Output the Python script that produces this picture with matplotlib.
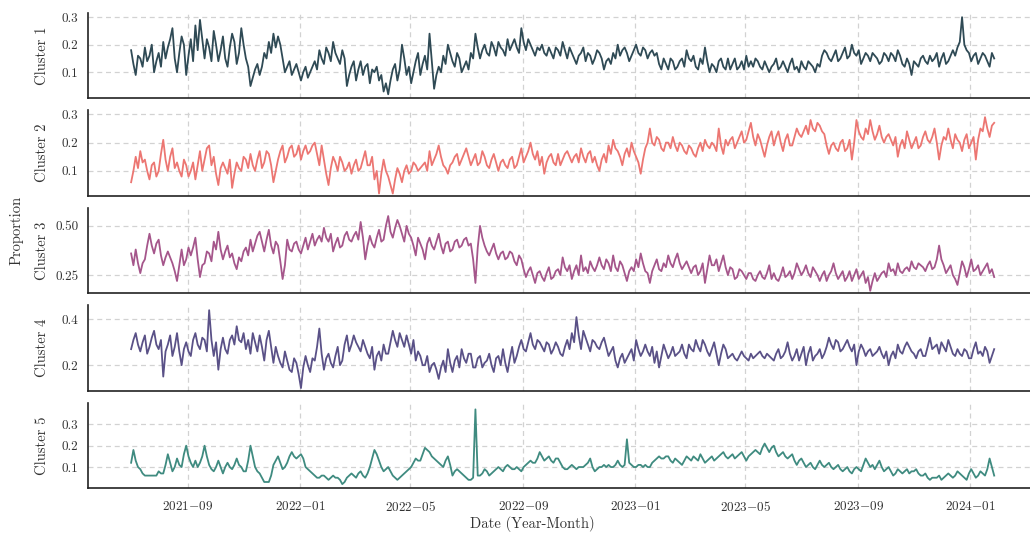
import matplotlib
matplotlib.use("Agg")
import matplotlib.pyplot as plt
import matplotlib.ticker as mticker
import matplotlib.dates as mdates
import pandas as pd
import numpy as np

plt.rcParams.update({
    "font.family": "serif",
    "font.serif": ["cmr10", "DejaVu Serif"],
    "mathtext.fontset": "cm",
    "axes.formatter.use_mathtext": True,
    "axes.unicode_minus": False,
})

start_date = "2021-07-01"
n_points = 189           # readings every 5 days
half_step = "60h"        # in-between readings, 2.5 days later

cluster1 = [
    0.18, 0.09, 0.15, 0.19, 0.16, 0.10, 0.17, 0.21, 0.19, 0.26,
    0.10, 0.23, 0.09, 0.22, 0.27, 0.29, 0.15, 0.19, 0.25, 0.14,
    0.23, 0.12, 0.24, 0.13, 0.26, 0.15, 0.05, 0.11, 0.09, 0.17,
    0.21, 0.24, 0.23, 0.15, 0.12, 0.09, 0.13, 0.07, 0.12, 0.10,
    0.14, 0.18, 0.13, 0.17, 0.21, 0.15, 0.18, 0.05, 0.12, 0.07,
    0.14, 0.12, 0.06, 0.10, 0.07, 0.03, 0.02, 0.11, 0.07, 0.20,
    0.09, 0.06, 0.14, 0.09, 0.16, 0.24, 0.04, 0.12, 0.16, 0.20,
    0.14, 0.17, 0.10, 0.14, 0.17, 0.24, 0.15, 0.20, 0.16, 0.19,
    0.21, 0.18, 0.22, 0.20, 0.19, 0.26, 0.18, 0.20, 0.16, 0.18,
    0.17, 0.19, 0.15,
    0.18, 0.21, 0.15, 0.17, 0.13, 0.17, 0.14,
    0.16, 0.15, 0.17, 0.11, 0.15, 0.17, 0.20, 0.18, 0.17, 0.16,
    0.20, 0.16, 0.18, 0.17, 0.16, 0.13, 0.15, 0.11, 0.14, 0.12,
    0.15, 0.18, 0.14, 0.12, 0.15, 0.19, 0.10, 0.12, 0.14, 0.12,
    0.15, 0.13, 0.11, 0.14, 0.16, 0.14, 0.15, 0.12, 0.14, 0.10,
    0.13, 0.11, 0.14, 0.10, 0.15, 0.12, 0.14, 0.11, 0.13, 0.10,
    0.12, 0.18, 0.15, 0.16, 0.14, 0.17, 0.15, 0.20, 0.16, 0.13,
    0.17, 0.14, 0.16, 0.13, 0.17, 0.14, 0.16, 0.18, 0.13, 0.15,
    0.09, 0.13, 0.15, 0.14, 0.16, 0.15, 0.12, 0.17, 0.14, 0.18,
    0.19, 0.30, 0.18, 0.14, 0.17, 0.15, 0.16, 0.12, 0.15,
]
cluster1_between = [
    0.13, 0.16, 0.12, 0.14, 0.20, 0.14, 0.12, 0.15, 0.22, 0.15,
    0.17, 0.20, 0.16, 0.14, 0.18, 0.22, 0.22, 0.14, 0.20, 0.18,
    0.15, 0.19, 0.21, 0.17, 0.20, 0.12, 0.08, 0.13, 0.12, 0.15,
    0.17, 0.19, 0.20, 0.10, 0.14, 0.11, 0.10, 0.10, 0.08, 0.12,
    0.11, 0.15, 0.19, 0.14, 0.17, 0.13, 0.15, 0.09, 0.14, 0.11,
    0.09, 0.13, 0.11, 0.12, 0.09, 0.06, 0.07, 0.13, 0.11, 0.15,
    0.12, 0.10, 0.17, 0.13, 0.11, 0.14, 0.09, 0.10, 0.13, 0.17,
    0.12, 0.15, 0.12, 0.11, 0.15, 0.19, 0.18, 0.17, 0.21, 0.16,
    0.19, 0.16, 0.18, 0.22, 0.17, 0.21, 0.22, 0.18, 0.19, 0.20,
    0.16, 0.17, 0.19, 0.16, 0.18, 0.19, 0.15, 0.16, 0.19, 0.17,
    0.13, 0.18, 0.15, 0.14, 0.13, 0.15, 0.16, 0.19, 0.14, 0.18,
    0.17, 0.19, 0.15, 0.18, 0.17, 0.11, 0.13, 0.15, 0.11, 0.14,
    0.12, 0.15, 0.16, 0.11, 0.13, 0.14, 0.13, 0.10, 0.15, 0.11,
    0.11, 0.15, 0.12, 0.11, 0.12, 0.12, 0.14, 0.11, 0.12, 0.12,
    0.15, 0.12, 0.12, 0.13, 0.11, 0.10, 0.12, 0.14, 0.12, 0.13,
    0.16, 0.17, 0.14, 0.18, 0.15, 0.19, 0.16, 0.17, 0.18, 0.15,
    0.16, 0.17, 0.15, 0.14, 0.16, 0.17, 0.14, 0.16, 0.12, 0.13,
    0.14, 0.12, 0.16, 0.13, 0.14, 0.17, 0.15, 0.13, 0.16, 0.16,
    0.21, 0.20, 0.17, 0.16, 0.13, 0.17, 0.14, 0.17,
]

cluster2 = [
    0.06, 0.15, 0.17, 0.14, 0.07, 0.13, 0.10, 0.21, 0.10, 0.18,
    0.13, 0.08, 0.12, 0.10, 0.07, 0.17, 0.14, 0.19, 0.15, 0.05,
    0.13, 0.09, 0.04, 0.13, 0.10, 0.14, 0.16, 0.10, 0.17, 0.13,
    0.16, 0.06, 0.14, 0.19, 0.15, 0.19, 0.16, 0.14, 0.19, 0.17,
    0.20, 0.12, 0.14, 0.05, 0.15, 0.10, 0.13, 0.11, 0.09, 0.14,
    0.11, 0.17, 0.12, 0.07, 0.02, 0.14, 0.08, 0.02, 0.11, 0.06,
    0.12, 0.10, 0.12, 0.11, 0.13, 0.17, 0.14, 0.19, 0.12, 0.09,
    0.13, 0.16, 0.14, 0.18, 0.12, 0.16, 0.13, 0.15, 0.11, 0.16,
    0.10, 0.14, 0.11, 0.15, 0.12, 0.18, 0.15, 0.20, 0.14, 0.12,
    0.09, 0.15, 0.13,
    0.16, 0.14, 0.17, 0.13, 0.16, 0.18, 0.13,
    0.17, 0.15, 0.10, 0.16, 0.19, 0.21, 0.17, 0.12, 0.18, 0.20,
    0.15, 0.09, 0.18, 0.25, 0.19, 0.21, 0.17, 0.20, 0.22, 0.17,
    0.19, 0.16, 0.18, 0.15, 0.20, 0.21, 0.18, 0.19, 0.25, 0.16,
    0.19, 0.22, 0.20, 0.24, 0.21, 0.27, 0.19, 0.21, 0.15, 0.22,
    0.19, 0.24, 0.17, 0.23, 0.19, 0.25, 0.22, 0.26, 0.28, 0.24,
    0.26, 0.23, 0.16, 0.20, 0.17, 0.21, 0.18, 0.14, 0.28, 0.22,
    0.25, 0.28, 0.21, 0.26, 0.20, 0.23, 0.19, 0.15, 0.21, 0.24,
    0.18, 0.22, 0.19, 0.24, 0.20, 0.25, 0.14, 0.22, 0.25, 0.18,
    0.21, 0.17, 0.23, 0.20, 0.14, 0.25, 0.29, 0.22, 0.27,
]
cluster2_between = [
    0.10, 0.11, 0.13, 0.10, 0.12, 0.08, 0.16, 0.14, 0.15, 0.11,
    0.10, 0.14, 0.08, 0.13, 0.12, 0.10, 0.18, 0.12, 0.09, 0.11,
    0.11, 0.14, 0.09, 0.11, 0.15, 0.11, 0.12, 0.14, 0.11, 0.17,
    0.12, 0.10, 0.17, 0.13, 0.18, 0.15, 0.19, 0.17, 0.16, 0.19,
    0.16, 0.19, 0.09, 0.11, 0.13, 0.15, 0.10, 0.13, 0.12, 0.10,
    0.14, 0.12, 0.15, 0.10, 0.09, 0.10, 0.05, 0.07, 0.09, 0.10,
    0.09, 0.13, 0.10, 0.12, 0.10, 0.12, 0.16, 0.15, 0.11, 0.12,
    0.15, 0.12, 0.16, 0.15, 0.14, 0.12, 0.17, 0.12, 0.14, 0.13,
    0.13, 0.12, 0.14, 0.11, 0.15, 0.13, 0.17, 0.16, 0.17, 0.15,
    0.13, 0.16, 0.12, 0.12, 0.16, 0.15, 0.15, 0.13, 0.15, 0.16,
    0.13, 0.12, 0.14, 0.13, 0.16, 0.18, 0.15, 0.16, 0.15, 0.17,
    0.13, 0.14, 0.20, 0.20, 0.22, 0.18, 0.20, 0.18, 0.19, 0.20,
    0.17, 0.19, 0.16, 0.18, 0.17, 0.19, 0.20, 0.17, 0.19, 0.21,
    0.21, 0.18, 0.22, 0.20, 0.24, 0.22, 0.23, 0.18, 0.19, 0.24,
    0.22, 0.20, 0.21, 0.19, 0.22, 0.23, 0.24, 0.23, 0.25, 0.27,
    0.24, 0.19, 0.19, 0.18, 0.20, 0.17, 0.21, 0.20, 0.24, 0.21,
    0.23, 0.24, 0.23, 0.22, 0.22, 0.21, 0.22, 0.19, 0.18, 0.21,
    0.20, 0.18, 0.22, 0.21, 0.22, 0.20, 0.19, 0.21, 0.21, 0.23,
    0.20, 0.21, 0.18, 0.22, 0.21, 0.24, 0.25, 0.26,
]

cluster3 = [
    0.36, 0.38, 0.26, 0.33, 0.46, 0.36, 0.43, 0.30, 0.37, 0.31,
    0.22, 0.38, 0.33, 0.35, 0.44, 0.24, 0.31, 0.36, 0.42, 0.47,
    0.33, 0.40, 0.36, 0.28, 0.32, 0.39, 0.43, 0.41, 0.47, 0.37,
    0.48, 0.36, 0.40, 0.23, 0.43, 0.37, 0.42, 0.36, 0.44, 0.42,
    0.40, 0.45, 0.49, 0.42, 0.37, 0.44, 0.40, 0.47, 0.42, 0.47,
    0.52, 0.33, 0.45, 0.39, 0.48, 0.43, 0.55, 0.44, 0.53, 0.46,
    0.50, 0.44, 0.35, 0.41, 0.33, 0.44, 0.38, 0.46, 0.36, 0.42,
    0.38, 0.43, 0.40, 0.44, 0.41, 0.21, 0.50, 0.40, 0.35, 0.41,
    0.33, 0.37, 0.34, 0.36, 0.30, 0.33, 0.24, 0.29, 0.21, 0.27,
    0.22, 0.29, 0.24,
    0.28, 0.34, 0.27, 0.23, 0.30, 0.35, 0.29,
    0.32, 0.27, 0.34, 0.28, 0.31, 0.35, 0.27, 0.30, 0.22, 0.29,
    0.33, 0.36, 0.27, 0.21, 0.30, 0.28, 0.31, 0.35, 0.29, 0.36,
    0.28, 0.32, 0.26, 0.30, 0.27, 0.21, 0.35, 0.30, 0.27, 0.35,
    0.25, 0.28, 0.24, 0.27, 0.23, 0.26, 0.22, 0.27, 0.23, 0.30,
    0.26, 0.22, 0.29, 0.25, 0.23, 0.31, 0.25, 0.30, 0.24, 0.27,
    0.22, 0.27, 0.25, 0.31, 0.23, 0.27, 0.24, 0.22, 0.28, 0.25,
    0.21, 0.17, 0.26, 0.24, 0.27, 0.31, 0.28, 0.31, 0.26, 0.29,
    0.32, 0.28, 0.30, 0.27, 0.32, 0.29, 0.40, 0.30, 0.28, 0.25,
    0.20, 0.32, 0.24, 0.33, 0.28, 0.25, 0.29, 0.26, 0.24,
]
cluster3_between = [
    0.30, 0.31, 0.31, 0.40, 0.40, 0.41, 0.35, 0.34, 0.34, 0.27,
    0.30, 0.30, 0.39, 0.39, 0.33, 0.30, 0.37, 0.32, 0.38, 0.38,
    0.37, 0.34, 0.31, 0.34, 0.37, 0.35, 0.37, 0.45, 0.42, 0.43,
    0.40, 0.42, 0.32, 0.30, 0.38, 0.41, 0.38, 0.40, 0.38, 0.46,
    0.43, 0.42, 0.44, 0.46, 0.41, 0.39, 0.45, 0.43, 0.45, 0.43,
    0.44, 0.40, 0.41, 0.44, 0.42, 0.50, 0.47, 0.49, 0.50, 0.42,
    0.46, 0.40, 0.44, 0.38, 0.41, 0.40, 0.42, 0.40, 0.41, 0.37,
    0.42, 0.39, 0.43, 0.40, 0.33, 0.39, 0.44, 0.37, 0.38, 0.36,
    0.36, 0.33, 0.37, 0.32, 0.35, 0.28, 0.27, 0.25, 0.26, 0.24,
    0.26, 0.23, 0.27, 0.25, 0.29, 0.30, 0.27, 0.25, 0.27, 0.26,
    0.29, 0.30, 0.30, 0.33, 0.27, 0.29, 0.32, 0.26, 0.27, 0.27,
    0.29, 0.31, 0.26, 0.27, 0.33, 0.27, 0.29, 0.31, 0.33, 0.31,
    0.30, 0.29, 0.29, 0.25, 0.31, 0.28, 0.30, 0.33, 0.31, 0.29,
    0.29, 0.23, 0.28, 0.25, 0.26, 0.23, 0.25, 0.24, 0.26, 0.23,
    0.23, 0.25, 0.24, 0.27, 0.26, 0.28, 0.27, 0.26, 0.29, 0.25,
    0.25, 0.22, 0.27, 0.26, 0.25, 0.22, 0.27, 0.25, 0.23, 0.27,
    0.24, 0.22, 0.22, 0.26, 0.24, 0.27, 0.25, 0.27, 0.28, 0.27,
    0.29, 0.31, 0.29, 0.30, 0.28, 0.33, 0.33, 0.26, 0.30, 0.23,
    0.26, 0.29, 0.28, 0.27, 0.30, 0.27, 0.31, 0.28,
]

cluster4 = [
    0.27, 0.34, 0.26, 0.33, 0.28, 0.35, 0.27, 0.15, 0.29, 0.24,
    0.34, 0.20, 0.30, 0.24, 0.34, 0.27, 0.31, 0.44, 0.24, 0.18,
    0.32, 0.25, 0.33, 0.37, 0.30, 0.27, 0.25, 0.30, 0.33, 0.22,
    0.35, 0.21, 0.24, 0.19, 0.22, 0.17, 0.21, 0.10, 0.24, 0.17,
    0.22, 0.36, 0.18, 0.25, 0.19, 0.28, 0.22, 0.33, 0.29, 0.30,
    0.26, 0.28, 0.23, 0.18, 0.26, 0.29, 0.25, 0.35, 0.28, 0.31,
    0.33, 0.25, 0.22, 0.24, 0.20, 0.17, 0.21, 0.14, 0.22, 0.27,
    0.17, 0.24, 0.27, 0.21, 0.25, 0.19, 0.24, 0.21, 0.25, 0.17,
    0.24, 0.27, 0.17, 0.28, 0.24, 0.31, 0.26, 0.34, 0.27, 0.30,
    0.26, 0.29, 0.27,
    0.28, 0.24, 0.31, 0.34, 0.41, 0.27, 0.32,
    0.26, 0.30, 0.27, 0.32, 0.24, 0.28, 0.19, 0.25, 0.23, 0.27,
    0.31, 0.24, 0.29, 0.24, 0.21, 0.19, 0.29, 0.23, 0.28, 0.25,
    0.29, 0.23, 0.27, 0.31, 0.26, 0.29, 0.24, 0.30, 0.20, 0.29,
    0.23, 0.25, 0.22, 0.26, 0.23, 0.25, 0.24, 0.26, 0.23, 0.24,
    0.22, 0.27, 0.24, 0.30, 0.22, 0.27, 0.25, 0.20, 0.28, 0.24,
    0.27, 0.25, 0.32, 0.27, 0.30, 0.27, 0.31, 0.26, 0.20, 0.29,
    0.24, 0.27, 0.25, 0.28, 0.23, 0.20, 0.26, 0.29, 0.25, 0.30,
    0.26, 0.23, 0.27, 0.24, 0.32, 0.28, 0.25, 0.28, 0.31, 0.25,
    0.27, 0.24, 0.26, 0.23, 0.30, 0.26, 0.28, 0.21, 0.27,
]
cluster4_between = [
    0.31, 0.29, 0.30, 0.25, 0.32, 0.29, 0.31, 0.26, 0.33, 0.28,
    0.26, 0.27, 0.26, 0.31, 0.29, 0.32, 0.26, 0.31, 0.30, 0.27,
    0.27, 0.31, 0.29, 0.31, 0.34, 0.31, 0.34, 0.26, 0.28, 0.31,
    0.28, 0.28, 0.21, 0.26, 0.18, 0.23, 0.16, 0.19, 0.20, 0.23,
    0.28, 0.25, 0.23, 0.21, 0.24, 0.20, 0.29, 0.26, 0.33, 0.28,
    0.31, 0.25, 0.28, 0.24, 0.22, 0.25, 0.30, 0.31, 0.34, 0.28,
    0.29, 0.31, 0.26, 0.20, 0.24, 0.20, 0.18, 0.19, 0.17, 0.21,
    0.22, 0.19, 0.23, 0.25, 0.19, 0.23, 0.19, 0.22, 0.20, 0.23,
    0.20, 0.21, 0.23, 0.21, 0.28, 0.27, 0.30, 0.29, 0.31, 0.28,
    0.30, 0.25, 0.30, 0.25, 0.28, 0.27, 0.30, 0.33, 0.35, 0.29,
    0.31, 0.28, 0.30, 0.28, 0.26, 0.22, 0.23, 0.21, 0.25, 0.22,
    0.27, 0.26, 0.26, 0.28, 0.26, 0.24, 0.26, 0.25, 0.24, 0.26,
    0.25, 0.29, 0.26, 0.28, 0.31, 0.26, 0.27, 0.25, 0.25, 0.27,
    0.24, 0.23, 0.24, 0.24, 0.22, 0.23, 0.25, 0.24, 0.25, 0.23,
    0.25, 0.23, 0.26, 0.25, 0.24, 0.22, 0.28, 0.25, 0.22, 0.25,
    0.23, 0.28, 0.29, 0.31, 0.26, 0.29, 0.28, 0.29, 0.26, 0.27,
    0.26, 0.24, 0.26, 0.25, 0.26, 0.24, 0.23, 0.26, 0.28, 0.28,
    0.25, 0.26, 0.24, 0.28, 0.27, 0.29, 0.30, 0.26, 0.28, 0.24,
    0.25, 0.27, 0.23, 0.27, 0.25, 0.24, 0.26, 0.24,
]

cluster5 = [
    0.12, 0.13, 0.09, 0.06, 0.06, 0.06, 0.08, 0.07, 0.16, 0.08,
    0.14, 0.10, 0.20, 0.12, 0.13, 0.12, 0.20, 0.11, 0.08, 0.13,
    0.07, 0.12, 0.09, 0.14, 0.10, 0.08, 0.20, 0.10, 0.07, 0.03,
    0.03, 0.11, 0.15, 0.09, 0.12, 0.17, 0.14, 0.16, 0.10, 0.08,
    0.06, 0.05, 0.06, 0.04, 0.06, 0.05, 0.02, 0.05, 0.07, 0.05,
    0.08, 0.05, 0.10, 0.18, 0.13, 0.08, 0.10, 0.06, 0.04, 0.06,
    0.08, 0.10, 0.14, 0.13, 0.19, 0.17, 0.14, 0.12, 0.10, 0.15,
    0.06, 0.09, 0.07, 0.05, 0.04, 0.37, 0.06, 0.09, 0.06, 0.08,
    0.10, 0.08, 0.11, 0.09, 0.10, 0.08, 0.11, 0.13, 0.12, 0.17,
    0.13, 0.15, 0.12,
    0.14, 0.10, 0.09, 0.11, 0.09, 0.10, 0.11,
    0.14, 0.08, 0.10, 0.11, 0.11, 0.10, 0.13, 0.10, 0.23, 0.11,
    0.10, 0.11, 0.11, 0.10, 0.13, 0.15, 0.14, 0.15, 0.12, 0.13,
    0.11, 0.15, 0.13, 0.14, 0.16, 0.12, 0.14, 0.13, 0.15, 0.17,
    0.14, 0.16, 0.15, 0.17, 0.13, 0.16, 0.18, 0.16, 0.21, 0.17,
    0.20, 0.15, 0.17, 0.14, 0.16, 0.11, 0.14, 0.10, 0.12, 0.09,
    0.13, 0.10, 0.12, 0.09, 0.11, 0.08, 0.10, 0.07, 0.10, 0.08,
    0.14, 0.10, 0.09, 0.13, 0.08, 0.10, 0.06, 0.09, 0.07, 0.09,
    0.08, 0.09, 0.06, 0.07, 0.04, 0.05, 0.06, 0.05, 0.07, 0.05,
    0.08, 0.06, 0.04, 0.09, 0.05, 0.08, 0.06, 0.14, 0.06,
]
cluster5_between = [
    0.18, 0.10, 0.07, 0.06, 0.06, 0.06, 0.07, 0.11, 0.12, 0.10,
    0.11, 0.16, 0.15, 0.10, 0.10, 0.15, 0.15, 0.09, 0.10, 0.10,
    0.10, 0.10, 0.11, 0.11, 0.08, 0.13, 0.15, 0.08, 0.05, 0.03,
    0.06, 0.13, 0.12, 0.10, 0.15, 0.15, 0.15, 0.14, 0.09, 0.07,
    0.05, 0.06, 0.05, 0.05, 0.05, 0.04, 0.03, 0.06, 0.06, 0.07,
    0.06, 0.07, 0.14, 0.16, 0.10, 0.09, 0.08, 0.05, 0.05, 0.07,
    0.09, 0.12, 0.13, 0.16, 0.18, 0.15, 0.13, 0.11, 0.13, 0.11,
    0.08, 0.08, 0.06, 0.04, 0.05, 0.06, 0.07, 0.08, 0.07, 0.09,
    0.09, 0.10, 0.10, 0.09, 0.09, 0.10, 0.12, 0.12, 0.14, 0.15,
    0.14, 0.13, 0.14, 0.12, 0.09, 0.10, 0.10, 0.10, 0.10, 0.12,
    0.10, 0.09, 0.10, 0.10, 0.10, 0.11, 0.11, 0.11, 0.12, 0.10,
    0.11, 0.10, 0.10, 0.12, 0.14, 0.14, 0.15, 0.13, 0.14, 0.12,
    0.13, 0.14, 0.15, 0.13, 0.14, 0.13, 0.15, 0.14, 0.16, 0.15,
    0.15, 0.14, 0.16, 0.15, 0.15, 0.17, 0.17, 0.19, 0.19, 0.19,
    0.17, 0.16, 0.15, 0.15, 0.13, 0.13, 0.12, 0.11, 0.10, 0.11,
    0.11, 0.11, 0.10, 0.10, 0.09, 0.09, 0.08, 0.09, 0.09, 0.11,
    0.12, 0.11, 0.11, 0.10, 0.09, 0.08, 0.07, 0.08, 0.08, 0.07,
    0.08, 0.07, 0.06, 0.05, 0.05, 0.05, 0.04, 0.06, 0.06, 0.06,
    0.07, 0.05, 0.07, 0.07, 0.06, 0.07, 0.09, 0.10,
]

series = [(cluster1, cluster1_between), (cluster2, cluster2_between),
          (cluster3, cluster3_between), (cluster4, cluster4_between),
          (cluster5, cluster5_between)]
labels = ["Cluster 1", "Cluster 2", "Cluster 3", "Cluster 4", "Cluster 5"]
colors = ["#2f4a55", "#ec7672", "#a5568b", "#5a5187", "#3f8b80"]
yticks = [[0.1, 0.2, 0.3], [0.1, 0.2, 0.3], [0.25, 0.50], [0.2, 0.4], [0.1, 0.2, 0.3]]
ytick_labels = [["0.1", "0.2", "0.3"], ["0.1", "0.2", "0.3"], ["0.25", "0.50"],
                ["0.2", "0.4"], ["0.1", "0.2", "0.3"]]
ylims = [(0.005, 0.315), (0.012, 0.314), (0.158, 0.592), (0.089, 0.462), (0.002, 0.402)]
xticks = ["2021-09-01", "2022-01-01", "2022-05-01", "2022-09-01",
          "2023-01-01", "2023-05-01", "2023-09-01", "2024-01-01"]

dates = pd.date_range(start_date, periods=2 * n_points - 1, freq=half_step)


def combine(main, between):
    assert len(main) == n_points and len(between) == n_points - 1
    out = np.empty(2 * n_points - 1)
    out[0::2] = main
    out[1::2] = between
    return out


fig, axes = plt.subplots(5, 1, figsize=(10.3, 5.35), dpi=100, sharex=True)
fig.subplots_adjust(left=0.0854, right=1.0, top=0.9757, bottom=0.0879, hspace=0.14)

for ax, (main, between), lab, c, yt, ytl, yl in zip(axes, series, labels, colors,
                                                   yticks, ytick_labels, ylims):
    ax.plot(dates, combine(main, between), color=c, lw=1.3)
    ax.set_ylim(*yl)
    ax.set_yticks(yt)
    ax.set_yticklabels(ytl)
    ax.set_ylabel(lab, fontsize=10.5, color="#333333")
    ax.yaxis.set_label_coords(-0.041, 0.5)
    ax.grid(True, which="major", axis="both", linestyle=(0, (4, 3)), color="#d2d2d2", lw=0.9)
    ax.set_axisbelow(True)
    for side in ["top", "right"]:
        ax.spines[side].set_visible(False)
    for side in ["left", "bottom"]:
        ax.spines[side].set_color("#222222")
        ax.spines[side].set_linewidth(1.2)
    ax.tick_params(axis="both", length=0, labelsize=9.5, colors="#333333")
    ax.tick_params(axis="y", pad=7)
    ax.tick_params(axis="x", pad=9)

axes[-1].set_xlim(pd.Timestamp("2021-05-15"), pd.Timestamp("2024-03-06"))
axes[-1].set_xticks(pd.to_datetime(xticks))
axes[-1].xaxis.set_major_formatter(
    mticker.FuncFormatter(lambda v, p: "$" + mdates.num2date(v).strftime("%Y{-}%m") + "$"))

fig.text(532 / 1030, 1 - 524 / 535, "Date (Year-Month)", ha="center", va="center",
         fontsize=10.5, color="#333333")
fig.text(17 / 1030, 1 - 230 / 535, "Proportion", ha="center", va="center",
         rotation=90, fontsize=10.5, color="#333333")

fig.savefig("out.png", dpi=100)
